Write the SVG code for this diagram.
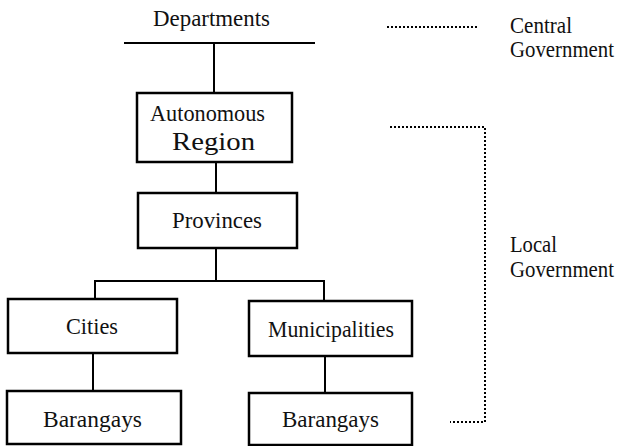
<svg xmlns="http://www.w3.org/2000/svg" width="625" height="446" viewBox="0 0 625 446">
<style>
text{font-family:"Liberation Serif","DejaVu Serif",serif;font-size:24px;fill:#111;}
.box{fill:#fff;stroke:#000;stroke-width:2.5;}
.ln{stroke:#000;stroke-width:2;fill:none;}
.dot{stroke:#000;stroke-width:2;fill:none;stroke-dasharray:2 2;}
.side{font-size:23px;}
</style>
<rect width="625" height="446" fill="#fff"/>
<g id="connectors">
<line class="ln" x1="124" y1="43" x2="315" y2="43"/>
<line class="ln" x1="214" y1="43" x2="214" y2="93"/>
<line class="ln" x1="216" y1="162" x2="216" y2="193"/>
<line class="ln" x1="216" y1="248" x2="216" y2="281"/>
<polyline class="ln" points="95,299 95,281 324,281 324,301"/>
<line class="ln" x1="93" y1="353" x2="93" y2="391"/>
<line class="ln" x1="325" y1="356" x2="325" y2="393"/>
<line class="dot" x1="387" y1="27" x2="477" y2="27"/>
<polyline class="dot" points="390,127 485,127 485,422 450,422"/>
</g>
<g id="departments">
<text x="153" y="26" textLength="117" lengthAdjust="spacingAndGlyphs">Departments</text>
</g>
<g id="autonomous-region">
<rect class="box" x="137" y="93" width="155" height="69"/>
<text x="150" y="121" textLength="115" lengthAdjust="spacingAndGlyphs">Autonomous</text>
<text x="172" y="150" style="font-size:26px" textLength="83" lengthAdjust="spacingAndGlyphs">Region</text>
</g>
<g id="provinces">
<rect class="box" x="138" y="193" width="159" height="55"/>
<text x="172" y="228" textLength="90" lengthAdjust="spacingAndGlyphs">Provinces</text>
</g>
<g id="cities">
<rect class="box" x="8" y="299" width="169" height="54"/>
<text x="66" y="334" textLength="52" lengthAdjust="spacingAndGlyphs">Cities</text>
</g>
<g id="municipalities">
<rect class="box" x="249" y="301" width="163" height="55"/>
<text x="268" y="337" textLength="126" lengthAdjust="spacingAndGlyphs">Municipalities</text>
</g>
<g id="barangays-cities">
<rect class="box" x="7" y="391" width="174" height="53"/>
<text x="43" y="427" textLength="99" lengthAdjust="spacingAndGlyphs">Barangays</text>
</g>
<g id="barangays-municipalities">
<rect class="box" x="249" y="393" width="163" height="52"/>
<text x="282" y="427" textLength="97" lengthAdjust="spacingAndGlyphs">Barangays</text>
</g>
<g id="central-government">
<text class="side" x="510" y="33" textLength="62" lengthAdjust="spacingAndGlyphs">Central</text>
<text class="side" x="510" y="57" textLength="104" lengthAdjust="spacingAndGlyphs">Government</text>
</g>
<g id="local-government">
<text class="side" x="510" y="252" textLength="47" lengthAdjust="spacingAndGlyphs">Local</text>
<text class="side" x="510" y="277" textLength="104" lengthAdjust="spacingAndGlyphs">Government</text>
</g>
</svg>
